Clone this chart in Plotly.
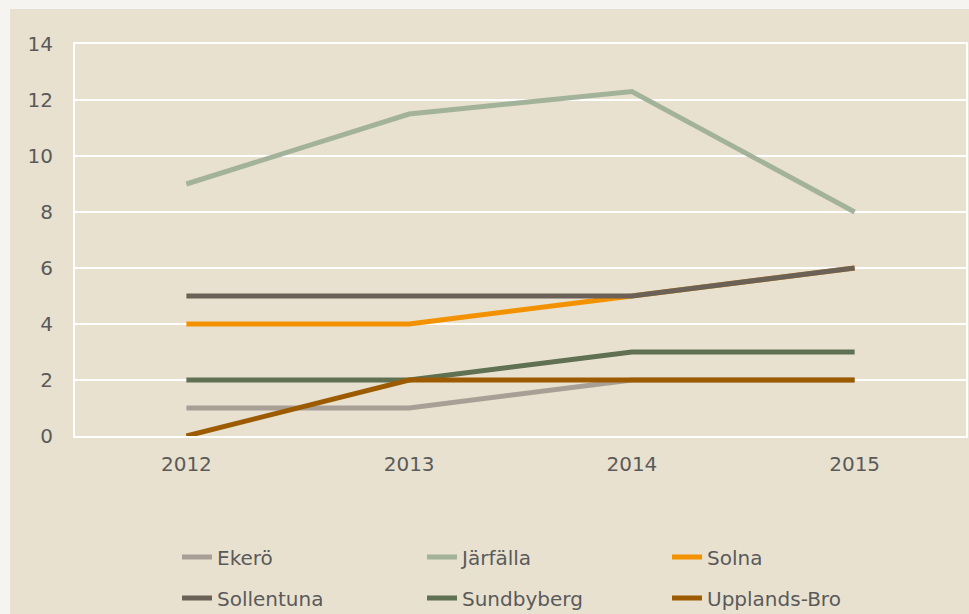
import plotly.graph_objects as go

years = ["2012", "2013", "2014", "2015"]
ekero = [1, 1, 2, 2]
jarfalla = [9, 11.5, 12.3, 8]
solna = [4, 4, 5, 6]
sollentuna = [5, 5, 5, 6]
sundbyberg = [2, 2, 3, 3]
upplands_bro = [0, 2, 2, 2]

series = [
    ("Ekerö", ekero, "#a8a097", "legend"),
    ("Järfälla", jarfalla, "#a3b29b", "legend"),
    ("Solna", solna, "#f39200", "legend"),
    ("Sollentuna", sollentuna, "#6b6156", "legend2"),
    ("Sundbyberg", sundbyberg, "#5f7053", "legend2"),
    ("Upplands-Bro", upplands_bro, "#9c5b00", "legend2"),
]

W, H = 969, 614
L, R, T, B = 75, 3, 44, 178
pw = W - L - R
ph = H - T - B

fig = go.Figure()
for name, vals, color, lg in series:
    fig.add_trace(go.Scatter(
        x=years, y=vals, name=name, mode="lines",
        line=dict(color=color, width=5),
        legend=lg,
    ))

font = dict(family="DejaVu Sans, sans-serif", size=20, color="#5a5a5a")

def px_x(p):
    return (p - L) / pw

def px_y(p):
    return (H - B - p) / ph

fig.add_shape(type="rect", xref="paper", yref="paper",
              x0=px_x(10), x1=px_x(W + 5), y0=px_y(H + 5), y1=px_y(9),
              fillcolor="#e9e1d0", line=dict(width=0), layer="below")

leg_common = dict(orientation="h", xanchor="left", yanchor="middle",
                  font=font, bgcolor="rgba(0,0,0,0)",
                  entrywidth=200, entrywidthmode="pixels")

fig.update_layout(
    width=W, height=H,
    margin=dict(l=L, r=R, t=T, b=B, autoexpand=False),
    paper_bgcolor="#f5f4f0",
    plot_bgcolor="#e9e1d0",
    font=font,
    showlegend=True,
    legend=dict(x=px_x(177), y=px_y(557), **leg_common),
    legend2=dict(x=px_x(177), y=px_y(598), **leg_common),
    xaxis=dict(
        type="category", range=[-0.5, 3.5],
        showgrid=False, showline=True, mirror=True,
        linecolor="white", linewidth=2,
        ticks="", ticklabelstandoff=9, tickfont=font,
        zeroline=False,
    ),
    yaxis=dict(
        range=[0, 14], dtick=2, tick0=0,
        showgrid=True, gridcolor="white", gridwidth=2,
        showline=True, mirror=True, linecolor="white", linewidth=2,
        ticks="", ticklabelstandoff=16, tickfont=font,
        zeroline=False,
    ),
)

fig.write_html("out.html", config={"displayModeBar": False},
               post_script="document.body.style.margin='0';document.body.style.background='#f5f4f0';")
